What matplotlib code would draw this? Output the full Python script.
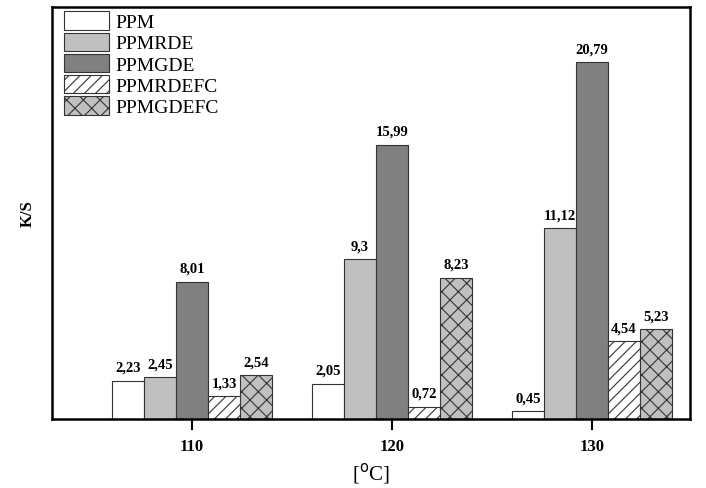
import numpy as np
import matplotlib
matplotlib.use('Agg')
import matplotlib.pyplot as plt

temps = [110, 120, 130]
series = ['PPM', 'PPMRDE', 'PPMGDE', 'PPMRDEFC', 'PPMGDEFC']
ppm = [2.23, 2.05, 0.45]
ppmrde = [2.45, 9.3, 11.12]
ppmgde = [8.01, 15.99, 20.79]
ppmrdefc = [1.33, 0.72, 4.54]
ppmgdefc = [2.54, 8.23, 5.23]

plt.rcParams['font.family'] = 'Liberation Serif'
plt.rcParams['hatch.linewidth'] = 0.8

fig = plt.figure(figsize=(7.06, 4.89), dpi=100)
ax = fig.add_axes([0.0737, 0.141, 0.9035, 0.8426])

faces = ['white', '#c0c0c0', '#808080', 'white', '#c0c0c0']
hatches = [None, None, None, '///', 'xx']
width = 1.6
x = np.array(temps, dtype=float)

for i, (name, vals) in enumerate(zip(series, [ppm, ppmrde, ppmgde, ppmrdefc, ppmgdefc])):
    pos = x + (i - 2) * width
    bars = ax.bar(pos, vals, width, color=faces[i], edgecolor='#333333',
                  linewidth=0.8, hatch=hatches[i], label=name)
    for b, v in zip(bars, vals):
        ax.text(b.get_x() + b.get_width() / 2, v + 0.4, str(v).replace('.', ','),
                ha='center', va='bottom', fontsize=10.5, fontweight='bold')

ax.set_xlim(103, 134.9)
ax.set_ylim(0, 24)
ax.set_xticks(temps)
ax.set_xticklabels([str(t) for t in temps], fontsize=12, fontweight='bold')
ax.set_yticks([])
ax.tick_params(axis='x', direction='out', length=8, width=1.5, pad=6)
for s in ax.spines.values():
    s.set_linewidth(1.8)

ax.set_ylabel('K/S', fontsize=12, fontweight='bold', labelpad=12)
ax.set_xlabel(r'[$^{\mathrm{o}}$C]', fontsize=15, labelpad=4)

ax.legend(loc='upper left', bbox_to_anchor=(0.015, 0.994), frameon=False,
          fontsize=14, handlelength=2.35, handleheight=1.1, labelspacing=0.06,
          handletextpad=0.3, borderaxespad=0.0, borderpad=0.1)

fig.savefig('out.png', dpi=100)
